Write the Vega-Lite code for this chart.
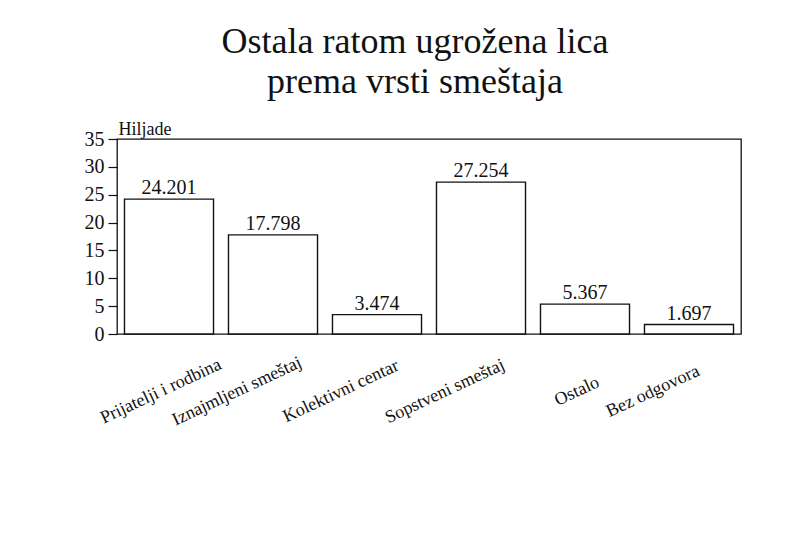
{
  "$schema": "https://vega.github.io/schema/vega-lite/v6.json",
  "width": 624,
  "height": 195,
  "autosize": {"type": "none"},
  "padding": {"left": 117, "top": 139, "right": 50, "bottom": 204},
  "background": "white",
  "title": {
    "text": ["Ostala ratom ugrožena lica", "prema vrsti smeštaja"],
    "font": "Liberation Serif",
    "fontSize": 36,
    "fontWeight": "normal",
    "color": "#111",
    "lineHeight": 40,
    "anchor": "middle",
    "frame": "group",
    "dx": -14,
    "offset": 19
  },
  "config": {
    "view": {"stroke": "#111", "strokeWidth": 1.3},
    "font": "Liberation Serif",
    "axis": {"grid": false, "labelFont": "Liberation Serif", "titleFont": "Liberation Serif", "labelColor": "#111", "titleColor": "#111"}
  },
  "data": {
    "values": [
      {"kategorija": "Prijatelji i rodbina", "vrednost": 24.201},
      {"kategorija": "Iznajmljeni smeštaj", "vrednost": 17.798},
      {"kategorija": "Kolektivni centar", "vrednost": 3.474},
      {"kategorija": "Sopstveni smeštaj", "vrednost": 27.254},
      {"kategorija": "Ostalo", "vrednost": 5.367},
      {"kategorija": "Bez odgovora", "vrednost": 1.697}
    ]
  },
  "encoding": {
    "x": {
      "field": "kategorija",
      "type": "nominal",
      "sort": null,
      "scale": {"paddingInner": 0.144, "paddingOuter": 0.072},
      "axis": {
        "title": null,
        "domain": false,
        "ticks": false,
        "tickSize": 0,
        "labelAngle": -25,
        "labelAlign": "center",
        "labelBaseline": "middle",
        "labelPadding": 57,
        "labelOffset": {"expr": "datum.value == 'Prijatelji i rodbina' || datum.value == 'Ostalo' ? -8 : -36"},
        "labelFontSize": 18,
        "labelLimit": 0
      }
    },
    "y": {
      "field": "vrednost",
      "type": "quantitative",
      "scale": {"domain": [0, 35], "nice": false},
      "axis": {
        "title": "Hiljade",
        "titleAngle": 0,
        "titleX": 1,
        "titleY": -5,
        "titleAlign": "left",
        "titleBaseline": "alphabetic",
        "titleFontSize": 18,
        "titleFontWeight": "normal",
        "values": [0, 5, 10, 15, 20, 25, 30, 35],
        "domain": false,
        "ticks": true,
        "tickSize": 9,
        "tickColor": "#111",
        "tickWidth": 1.2,
        "labelPadding": 4,
        "labelFontSize": 20
      }
    }
  },
  "layer": [
    {"mark": {"type": "bar", "fill": "white", "stroke": "#111", "strokeWidth": 1.4}},
    {
      "mark": {"type": "text", "baseline": "alphabetic", "dy": -5, "fontSize": 20, "color": "#111", "font": "Liberation Serif"},
      "encoding": {"text": {"field": "vrednost", "type": "quantitative", "format": ".3f"}}
    }
  ]
}
